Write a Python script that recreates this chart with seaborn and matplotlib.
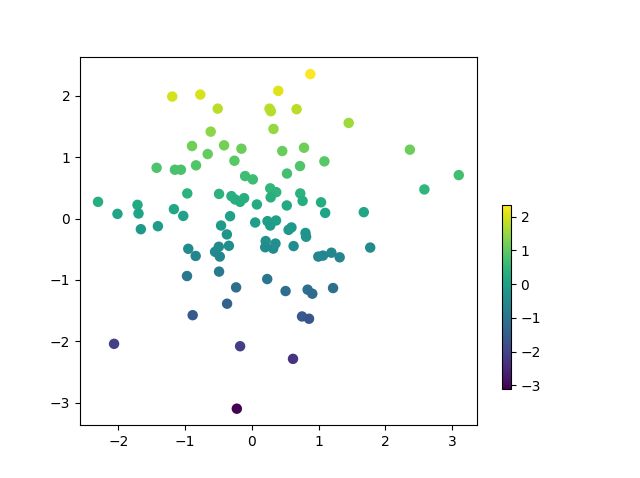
import numpy as np
import pandas as pd
import matplotlib
matplotlib.use('Agg')
import matplotlib.pyplot as plt
import seaborn as sns

# Point coordinates
x_vals = [-1.192, -0.772, -0.511, -0.616, -0.896, -0.661, -1.426, -1.152, -1.062, -0.836,
          -0.967, -2.303, -1.712, -2.012, -1.697, -1.167, -1.027, -1.662, -1.407, -0.952,
          0.875, 0.395, 0.264, 0.285, 0.670, 1.450, 0.324, -0.416, -0.156, -0.261,
          0.455, 0.781, 0.721, 1.086, 0.526, -0.101, 0.015, -0.491, -0.306, -0.251,
          -0.176, -0.116, 0.075, 0.275, 0.365, 0.282, 0.725, 0.760, 0.523, 1.036,
          1.098, -0.326, -0.461, -0.374, 0.050, 0.234, 0.275, 0.362, 0.550, 0.593,
          0.803, 0.812, -0.495, -0.551, -0.480, -0.344, 0.207, 0.200, 0.320, 0.354,
          0.625, 0.995, 1.065, 1.191, 1.315, -0.491, 0.230, -0.236, 0.505, 0.835,
          0.905, 1.216, -0.371, 0.751, 0.856, -0.176, 0.616, -0.225, -0.841, -0.971,
          -0.886, -2.063, 1.772, 2.366, 3.098, 2.583, 1.676]
y_vals = [1.989, 2.021, 1.792, 1.417, 1.183, 1.052, 0.828, 0.796, 0.796, 0.868,
          0.410, 0.273, 0.224, 0.077, 0.083, 0.154, 0.044, -0.173, -0.124, -0.492,
          2.355, 2.082, 1.792, 1.750, 1.783, 1.559, 1.461, 1.194, 1.139, 0.943,
          1.101, 1.155, 0.856, 0.933, 0.734, 0.693, 0.639, 0.402, 0.366, 0.312,
          0.273, 0.333, 0.230, 0.493, 0.431, 0.346, 0.410, 0.288, 0.214, 0.265,
          0.093, 0.039, -0.113, -0.258, -0.064, -0.042, -0.113, -0.031, -0.183, -0.144,
          -0.234, -0.296, -0.459, -0.541, -0.619, -0.443, -0.366, -0.467, -0.489, -0.407,
          -0.448, -0.619, -0.603, -0.556, -0.631, -0.864, -0.985, -1.121, -1.181, -1.158,
          -1.224, -1.132, -1.387, -1.595, -1.632, -2.080, -2.286, -3.098, -0.609, -0.936,
          -1.574, -2.041, -0.472, 1.123, 0.709, 0.475, 0.105]

df = pd.DataFrame({'x': x_vals, 'y': y_vals})

fig, ax = plt.subplots(figsize=(6.4, 4.78), dpi=100)

# Colour each point by its y value
sns.scatterplot(data=df, x='x', y='y', hue='y', palette='viridis',
                s=36, linewidth=1.5, edgecolor='face', legend=False, ax=ax)
ax.set_xlabel('')
ax.set_ylabel('')

norm = plt.Normalize(df['y'].min(), df['y'].max())
sm = plt.cm.ScalarMappable(cmap='viridis', norm=norm)
sm.set_array([])
fig.colorbar(sm, ax=ax, shrink=0.5, anchor=(0.0, 0.2))

fig.savefig('out.png')
